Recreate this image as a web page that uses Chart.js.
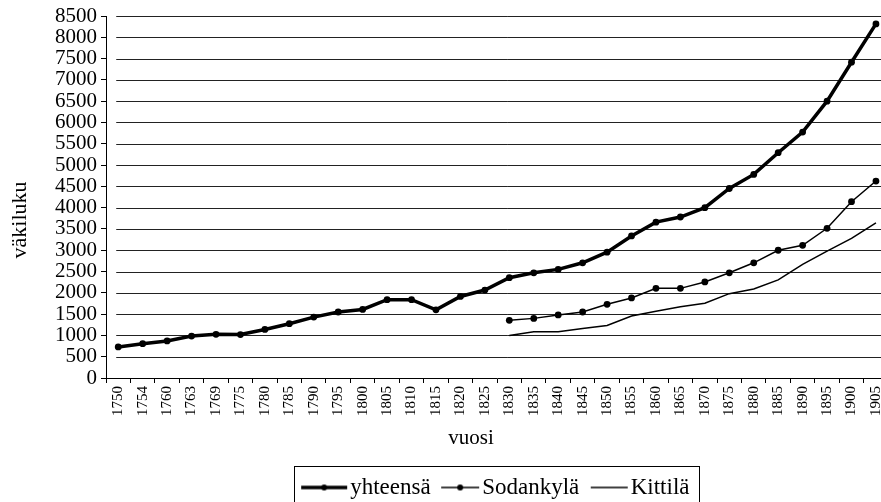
<!DOCTYPE html>
<html>
<head>
<meta charset="utf-8">
<script src="https://cdn.jsdelivr.net/npm/chart.js@4.4.1/dist/chart.umd.min.js"></script>
<style>
  html, body { margin: 0; padding: 0; background: #fff; overflow: hidden; }
  #wrap { width: 897px; height: 502px; }
</style>
</head>
<body>
<div id="wrap"><canvas id="chart"></canvas></div>
<script>
// vuodet (x-akseli)
const years = ["1750", "1754", "1760", "1763", "1769", "1775", "1780", "1785", "1790", "1795",
  "1800", "1805", "1810", "1815", "1820", "1825", "1830", "1835", "1840", "1845",
  "1850", "1855", "1860", "1865", "1870", "1875", "1880", "1885", "1890", "1895", "1900", "1905"];

// väkiluku
const yhteensa = [730, 805, 870, 985, 1025, 1020, 1140, 1275, 1430, 1550,
  1610, 1840, 1840, 1600, 1915, 2065, 2355, 2470, 2550, 2705,
  2955, 3335, 3660, 3780, 4000, 4450, 4780, 5290, 5775, 6500, 7415, 8315];
const sodankyla = [null, null, null, null, null, null, null, null, null, null,
  null, null, null, null, null, null, 1355, 1400, 1480, 1550,
  1730, 1880, 2105, 2105, 2255, 2470, 2705, 3000, 3115, 3515, 4140, 4625];
const kittila = [null, null, null, null, null, null, null, null, null, null,
  null, null, null, null, null, null, 1000, 1085, 1085, 1160,
  1235, 1455, 1565, 1675, 1755, 1980, 2090, 2305, 2670, 2980, 3280, 3645];

const yTicks = [0, 500, 1000, 1500, 2000, 2500, 3000, 3500, 4000, 4500,
  5000, 5500, 6000, 6500, 7000, 7500, 8000, 8500];

const FONT = "'Liberation Serif', 'Times New Roman', serif";
const LEG_FONT = 23;
const BOX_W = 34;

// legendan viivasymbolit: kuva ulottuu melkein tekstiin asti
function legendSymbol(len, lw, r) {
  const half = BOX_W / 2 + LEG_FONT / 2;   // kuva keskitetään kohtaan x + BOX_W/2
  const w = Math.round(half * 2);
  const c = document.createElement("canvas");
  c.width = w; c.height = 12;
  const g = c.getContext("2d");
  g.strokeStyle = "#000"; g.fillStyle = "#000"; g.lineWidth = lw;
  const x1 = w - 3, x0 = x1 - len;
  g.beginPath(); g.moveTo(x0, 6); g.lineTo(x1, 6); g.stroke();
  if (r) { g.beginPath(); g.arc((x0 + x1) / 2, 6, r, 0, Math.PI * 2); g.fill(); }
  return c;
}
const symbols = [legendSymbol(46, 3.5, 3), legendSymbol(38, 1.5, 3), legendSymbol(37, 1.5, 0)];

// vaakaviivat alkavat ensimmäisestä vuodesta
const gridPlugin = {
  id: "grid",
  beforeDatasetsDraw(chart) {
    const { ctx, chartArea, scales } = chart;
    const x0 = scales.x.getPixelForValue(0) - 2;
    ctx.save();
    ctx.strokeStyle = "#222";
    ctx.lineWidth = 1;
    yTicks.forEach(v => {
      if (v === 0) return;
      const y = Math.round(scales.y.getPixelForValue(v)) + 0.5;
      ctx.beginPath(); ctx.moveTo(x0, y); ctx.lineTo(chartArea.right + 10, y); ctx.stroke();
    });
    ctx.restore();
  }
};

// akselien otsikot ja legendan kehys
const extras = {
  id: "extras",
  afterDraw(chart) {
    const ctx = chart.ctx;
    ctx.save();
    ctx.fillStyle = "#000";
    ctx.textAlign = "center";
    ctx.textBaseline = "middle";
    ctx.font = "21px " + FONT;
    ctx.fillText("vuosi", 471, 438);
    ctx.translate(20, 220);
    ctx.rotate(-Math.PI / 2);
    ctx.font = "22px " + FONT;
    ctx.fillText("väkiluku", 0, 0);
    ctx.restore();

    const boxes = chart.legend.legendHitBoxes;
    if (!boxes || !boxes.length) return;
    const left = Math.min(...boxes.map(b => b.left)) - 11;
    const right = Math.max(...boxes.map(b => b.left + b.width)) + 9;
    const top = boxes[0].top - 10;
    ctx.save();
    ctx.strokeStyle = "#000";
    ctx.lineWidth = 1;
    ctx.strokeRect(Math.round(left) + 0.5, Math.round(top) + 0.5, Math.round(right - left), 60);
    ctx.restore();
  }
};

new Chart(document.getElementById("chart"), {
  type: "line",
  data: {
    labels: years,
    datasets: [
      { label: "yhteensä", data: yhteensa, borderColor: "#000", backgroundColor: "#000",
        borderWidth: 3.5, pointRadius: 3.4, pointBorderWidth: 0, pointHoverRadius: 3.4, tension: 0 },
      { label: "Sodankylä", data: sodankyla, borderColor: "#000", backgroundColor: "#000",
        borderWidth: 1.5, pointRadius: 3.4, pointBorderWidth: 0, pointHoverRadius: 3.4, tension: 0 },
      { label: "Kittilä", data: kittila, borderColor: "#000", backgroundColor: "#000",
        borderWidth: 1.5, pointRadius: 0, pointHoverRadius: 0, tension: 0 }
    ]
  },
  options: {
    responsive: true,
    maintainAspectRatio: false,
    animation: false,
    layout: { padding: { top: 16, right: 0, left: 51, bottom: -7 } },
    scales: {
      x: {
        offset: true,
        grid: { display: true, drawOnChartArea: false, drawTicks: true, tickLength: 5, color: "#000", offset: true },
        border: { color: "#000", width: 1 },
        ticks: { color: "#000", font: { family: FONT, size: 15 }, maxRotation: 90, minRotation: 90,
          autoSkip: false, padding: 3 },
        afterFit(scale) { scale.height += 51; }
      },
      y: {
        min: 0, max: 8500,
        afterBuildTicks(scale) { scale.ticks = yTicks.map(v => ({ value: v })); },
        grid: { display: true, drawOnChartArea: false, drawTicks: true, tickLength: 5, color: "#000" },
        border: { color: "#000", width: 1 },
        ticks: { color: "#000", font: { family: FONT, size: 21, lineHeight: 1 }, autoSkip: false, padding: 4,
          callback: v => String(v) }
      }
    },
    plugins: {
      legend: {
        position: "bottom",
        fullSize: false,
        labels: {
          color: "#000",
          font: { family: FONT, size: LEG_FONT },
          usePointStyle: true,
          pointStyleWidth: BOX_W,
          padding: 6,
          generateLabels(chart) {
            const items = Chart.defaults.plugins.legend.labels.generateLabels(chart);
            items.forEach((it, i) => { it.pointStyle = symbols[i]; });
            return items;
          }
        }
      },
      tooltip: { enabled: false }
    }
  },
  plugins: [gridPlugin, extras]
});
</script>
</body>
</html>
